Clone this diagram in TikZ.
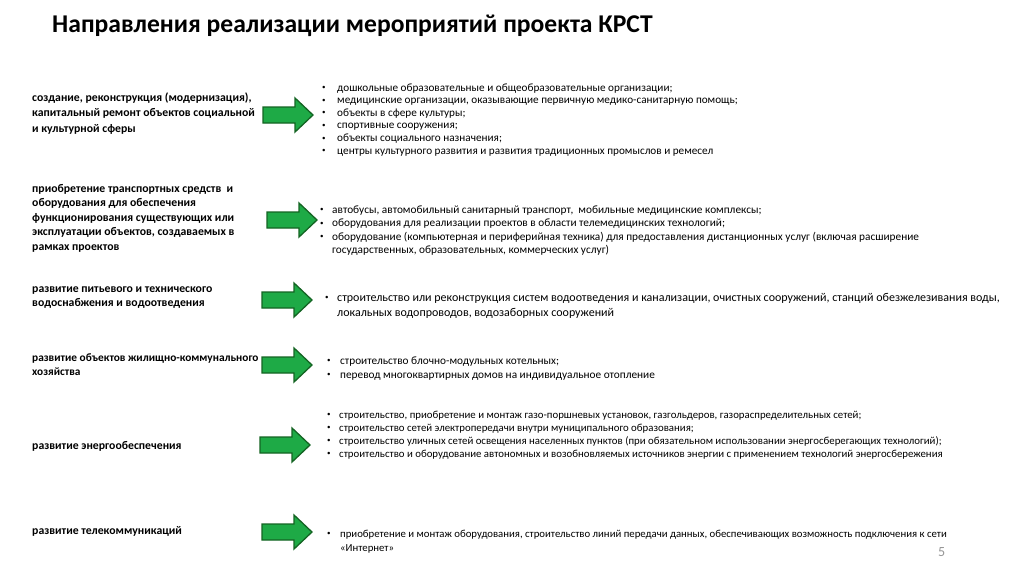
\documentclass[tikz,border=0pt]{standalone}
\usepackage{fontspec}
\setmainfont{Carlito}

\definecolor{arrowfill}{RGB}{30,170,70}
\definecolor{arrowline}{RGB}{20,100,35}
\definecolor{pagegray}{RGB}{150,150,150}

% green block arrow: #1 = left end, #2 = middle height
\newcommand{\greenarrow}[2]{%
  \draw[blockarrow] (#1,#2-8) -- ++(32,0) -- ++(0,-9) -- ++(18,17)
    -- ++(-18,17) -- ++(0,-9) -- ++(-32,0) -- cycle;}

\tikzset{
  blockarrow/.style={fill=arrowfill, draw=arrowline, line width=1.3pt, line join=miter},
  heading/.style={anchor=base west, inner sep=0pt, font=\fontsize{25.6}{30}\selectfont\bfseries},
  topic/.style={anchor=base west, inner sep=0pt},
  items/.style={anchor=base west, inner sep=0pt},
}

\newcommand{\bul}{\raisebox{0.12em}{\fontsize{7}{7}\selectfont\textbullet}}

\begin{document}
\begin{tikzpicture}[x=1pt, y=-1pt]

\useasboundingbox[fill=white] (0,0) rectangle (1024,574);

% title
\node[heading] (title) at (52,32) {Направления реализации мероприятий проекта КРСТ};

% topics
\node[topic, font=\fontsize{11.75}{15.5}\selectfont\bfseries] (topic1) at (32,101)
  {\begin{tabular}[t]{@{}l@{}}создание, реконструкция (модернизация),\\капитальный ремонт объектов социальной\\и культурной сферы\end{tabular}};
\node[topic, font=\fontsize{11.75}{14.5}\selectfont\bfseries] (topic2) at (32,192)
  {\begin{tabular}[t]{@{}l@{}}приобретение транспортных средств \ и\\оборудования для обеспечения\\функционирования существующих или\\эксплуатации объектов, создаваемых в\\рамках проектов\end{tabular}};
\node[topic, font=\fontsize{11.75}{14}\selectfont\bfseries] (topic3) at (32,292)
  {\begin{tabular}[t]{@{}l@{}}развитие питьевого и технического\\водоснабжения и водоотведения\end{tabular}};
\node[topic, font=\fontsize{11.35}{14}\selectfont\bfseries] (topic4) at (32,361)
  {\begin{tabular}[t]{@{}l@{}}развитие объектов жилищно-коммунального\\хозяйства\end{tabular}};
\node[topic, font=\fontsize{11.75}{14}\selectfont\bfseries] (topic5) at (32,449)
  {развитие энергообеспечения};
\node[topic, font=\fontsize{11.75}{14}\selectfont\bfseries] (topic6) at (32,534)
  {развитие телекоммуникаций};

% arrows
\greenarrow{263}{115}
\greenarrow{267}{220}
\greenarrow{262}{300}
\greenarrow{262}{365}
\greenarrow{260}{445}
\greenarrow{262}{532}

% lists
\node[items, font=\fontsize{11.2}{12.6}\selectfont] (list1) at (322,91) {%
  \begin{tabular}[t]{@{}p{15pt}@{}l@{}}
  \bul & дошкольные образовательные и общеобразовательные организации;\\
  \bul & медицинские организации, оказывающие первичную медико-санитарную помощь;\\
  \bul & объекты в сфере культуры;\\
  \bul & спортивные сооружения;\\
  \bul & объекты социального назначения;\\
  \bul & центры культурного развития и развития традиционных промыслов и ремесел
  \end{tabular}};
\node[items, font=\fontsize{11.3}{13.6}\selectfont] (list2) at (320,213) {%
  \begin{tabular}[t]{@{}p{12pt}@{}l@{}}
  \bul & автобусы, автомобильный санитарный транспорт, \ мобильные медицинские комплексы;\\
  \bul & оборудования для реализации проектов в области телемедицинских технологий;\\
  \bul & оборудование (компьютерная и периферийная техника) для предоставления дистанционных услуг (включая расширение\\
       & государственных, образовательных, коммерческих услуг)
  \end{tabular}};
\node[items, font=\fontsize{12}{15}\selectfont] (list3) at (325,301) {%
  \begin{tabular}[t]{@{}p{12pt}@{}l@{}}
  \bul & строительство или реконструкция систем водоотведения и канализации, очистных сооружений, станций обезжелезивания воды,\\
       & локальных водопроводов, водозаборных сооружений
  \end{tabular}};
\node[items, font=\fontsize{11.3}{14}\selectfont] (list4) at (327,364) {%
  \begin{tabular}[t]{@{}p{13pt}@{}l@{}}
  \bul & строительство блочно-модульных котельных;\\
  \bul & перевод многоквартирных домов на индивидуальное отопление
  \end{tabular}};
\node[items, font=\fontsize{10.8}{13}\selectfont] (list5) at (327,418) {%
  \begin{tabular}[t]{@{}p{12pt}@{}l@{}}
  \bul & строительство, приобретение и монтаж газо-поршневых установок, газгольдеров, газораспределительных сетей;\\
  \bul & строительство сетей электропередачи внутри муниципального образования;\\
  \bul & строительство уличных сетей освещения населенных пунктов (при обязательном использовании энергосберегающих технологий);\\
  \bul & строительство и оборудование автономных и возобновляемых источников энергии с применением технологий энергосбережения
  \end{tabular}};
\node[items, font=\fontsize{10.75}{14}\selectfont] (list6) at (327,537) {%
  \begin{tabular}[t]{@{}p{13pt}@{}l@{}}
  \bul & приобретение и монтаж оборудования, строительство линий передачи данных, обеспечивающих возможность подключения к сети\\
       & «Интернет»
  \end{tabular}};

% page number
\node[items, text=pagegray, font=\fontsize{14}{16}\selectfont] (pagenum) at (938,556) {5};

\end{tikzpicture}
\end{document}
